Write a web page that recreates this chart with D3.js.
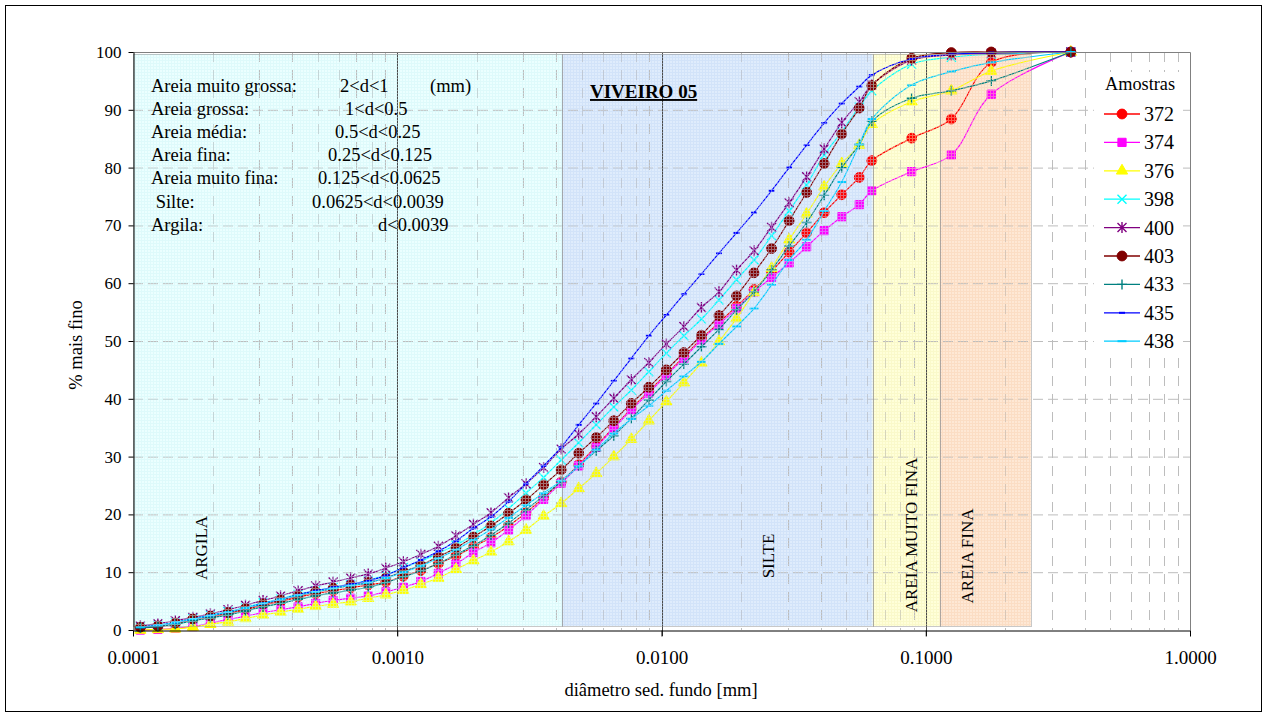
<!DOCTYPE html>
<html>
<head>
<meta charset="utf-8">
<script src="https://cdn.jsdelivr.net/npm/d3@7"></script>
<style>
body { margin: 0; background: #fff; }
svg { font-family: "Liberation Serif", "Times New Roman", serif; }
</style>
</head>
<body>
<svg id="chart"></svg>
<script>

// diametros (mm) das classes medidas
var diam = [0.0001066, 0.0001242, 0.0001446, 0.0001685, 0.0001963, 0.0002288, 0.0002665, 0.0003105,
  0.0003618, 0.0004214, 0.000491, 0.000572, 0.0006665, 0.0007766, 0.0009048, 0.001054, 0.001228,
  0.001431, 0.001667, 0.001942, 0.002263, 0.002637, 0.003072, 0.00358, 0.004171, 0.00486, 0.005662,
  0.006597, 0.007686, 0.008954, 0.010433, 0.012155, 0.014162, 0.0165, 0.019223, 0.022397, 0.026095,
  0.030402, 0.035421, 0.041266, 0.048084, 0.056021, 0.0625, 0.0884, 0.125, 0.177, 0.354];

var amostras = ["372", "374", "376", "398", "400", "403", "433", "435", "438"];

// % mais fino, uma lista por amostra
var s372 = [0.4, 0.6, 1.1, 1.7, 2.2, 2.8, 3.5, 4.3, 4.9, 5.7, 6.3, 6.8, 7.3, 7.8, 8.3,
  9.3, 10.3, 11.5, 12.8, 14.4, 16.0, 18.0, 20.3, 22.9, 25.6, 28.6, 31.8, 35.1,
  38.3, 41.3, 44.3, 47.3, 50.4, 53.2, 56.0, 58.9, 62.0, 65.4, 68.7, 72.2, 75.3, 78.3,
  81.2, 85.1, 88.4, 98.2, 100];
var s374 = [0.0, 0.1, 0.3, 0.6, 1.2, 1.8, 2.4, 3.0, 3.5, 4.0, 4.6, 5.1, 5.5, 5.9, 6.6,
  7.4, 8.4, 9.8, 11.4, 13.4, 15.1, 17.3, 19.8, 22.6, 25.4, 28.4, 31.6, 34.9,
  38.1, 41.0, 44.1, 47.0, 50.2, 52.9, 55.6, 58.5, 61.0, 63.5, 66.3, 69.1, 71.5, 73.6,
  76.0, 79.3, 82.2, 92.7, 100];
var s376 = [0.0, 0.1, 0.2, 0.5, 1.0, 1.4, 2.0, 2.6, 3.1, 3.6, 4.1, 4.5, 4.9, 5.5, 6.1,
  6.9, 7.9, 9.0, 10.5, 12.0, 13.5, 15.3, 17.3, 19.7, 21.9, 24.5, 27.1, 30.0,
  33.0, 36.2, 39.5, 42.8, 46.2, 49.9, 53.9, 58.4, 62.6, 67.5, 72.0, 76.7, 80.7, 83.9,
  87.5, 91.4, 93.3, 96.7, 100];
var s398 = [0.5, 0.8, 1.3, 2.0, 2.6, 3.2, 3.9, 4.7, 5.4, 6.2, 6.8, 7.4, 7.9, 8.6, 9.5,
  10.8, 11.9, 13.3, 14.7, 16.5, 18.5, 21.0, 23.7, 26.4, 29.4, 32.4, 35.5, 38.6,
  41.5, 44.7, 47.9, 50.9, 53.8, 57.1, 60.6, 64.0, 68.2, 72.5, 77.0, 82.2, 86.2, 90.5,
  93.3, 97.9, 99.1, 99.6, 100];
var s400 = [0.7, 1.1, 1.6, 2.2, 2.8, 3.5, 4.3, 5.1, 5.9, 6.8, 7.6, 8.3, 9.0, 9.7, 10.7,
  11.8, 13.1, 14.5, 16.3, 18.3, 20.3, 22.9, 25.3, 28.1, 31.3, 33.9, 36.9, 40.1,
  43.3, 46.3, 49.5, 52.5, 55.8, 58.5, 62.3, 65.6, 69.7, 73.9, 78.4, 83.2, 87.8, 91.4,
  94.3, 98.6, 99.5, 99.8, 100];
var s403 = [0.5, 0.7, 1.2, 1.9, 2.4, 3.0, 3.7, 4.5, 5.2, 5.9, 6.6, 7.2, 7.7, 8.2, 9.0,
  10.1, 11.2, 12.7, 14.2, 16.1, 18.0, 20.2, 22.5, 25.1, 27.7, 30.6, 33.3, 36.2,
  39.2, 42.0, 45.0, 48.0, 51.0, 54.4, 57.8, 61.8, 66.0, 70.8, 75.7, 80.7, 85.8, 90.3,
  94.2, 98.9, 99.9, 100, 100];
var s433 = [0.4, 0.6, 1.0, 1.6, 2.1, 2.6, 3.3, 4.0, 4.6, 5.3, 5.9, 6.4, 6.9, 7.4, 8.2,
  9.2, 10.2, 11.5, 13.0, 14.6, 16.4, 18.5, 20.8, 23.2, 25.7, 28.4, 31.0, 33.6,
  36.6, 39.8, 43.0, 46.0, 49.0, 52.0, 55.4, 58.5, 62.3, 66.4, 70.5, 75.2, 80.0, 84.0,
  88.0, 92.0, 93.3, 95.0, 100];
var s435 = [0.5, 0.8, 1.3, 1.9, 2.5, 3.1, 3.8, 4.6, 5.3, 6.1, 6.8, 7.4, 7.9, 8.5, 9.4,
  10.8, 12.1, 13.6, 15.4, 17.6, 19.6, 22.2, 25.3, 28.4, 31.6, 35.5, 39.2, 43.1,
  47.0, 50.9, 54.5, 58.1, 61.6, 65.2, 68.7, 72.2, 76.0, 80.0, 83.9, 87.7, 91.1, 94.0,
  96.0, 98.8, 99.6, 99.9, 100];
var s438 = [0.5, 0.8, 1.3, 1.9, 2.5, 3.1, 3.8, 4.6, 5.3, 6.0, 6.6, 7.2, 7.7, 8.2, 9.0,
  10.0, 11.1, 12.4, 13.9, 15.6, 17.4, 19.4, 21.6, 23.7, 25.8, 28.3, 31.2, 34.0,
  36.5, 38.8, 41.4, 43.9, 46.4, 49.5, 52.5, 55.6, 59.7, 64.0, 67.5, 72.5, 77.5, 84.0,
  88.4, 94.3, 96.6, 98.2, 100];

var valores = [s372, s374, s376, s398, s400, s403, s433, s435, s438];

// faixas granulometricas (mm)
var faixas = ["ARGILA", "SILTE", "AREIA MUITO FINA", "AREIA FINA"];
var faixaLimites = [[0.0001, 0.0042], [0.0042, 0.063], [0.063, 0.113], [0.113, 0.25]];

var classes = ["Areia muito grossa:", "Areia grossa:", "Areia média:", "Areia fina:",
  "Areia muito fina:", " Silte:", "Argila:"];
var classeIntervalos = ["2<d<1", "1<d<0.5", "0.5<d<0.25", "0.25<d<0.125",
  "0.125<d<0.0625", "0.0625<d<0.0039", "d<0.0039"];

var xTicks = [0.0001, 0.001, 0.01, 0.1, 1];
var yTicks = [0, 10, 20, 30, 40, 50, 60, 70, 80, 90, 100];

// ---- estilo ----
var seriesStyle = [
  {color: "#ff0000", mk: "circle"},
  {color: "#ff00ff", mk: "square"},
  {color: "#ffff00", mk: "triangle"},
  {color: "#00ffff", mk: "x"},
  {color: "#800080", mk: "star"},
  {color: "#800000", mk: "circle"},
  {color: "#008080", mk: "plus"},
  {color: "#0000ff", mk: "dash"},
  {color: "#00ccff", mk: "longdash"}
];
var faixaStyle = [
  {fill: "#ebffff", line: "#cdf3f7", lx: 207, ly: 548},
  {fill: "#dfecfc", line: "#c3d8f5", lx: 774, ly: 556},
  {fill: "#ffffd9", line: "#f3f1b8", lx: 917, ly: 535},
  {fill: "#fee8d5", line: "#f7d0b0", lx: 973, ly: 556}
];
var intervaloX = [340, 345, 335, 328, 318, 312, 378];

var W = 1267, H = 718;
var svg = d3.select("#chart").attr("width", W).attr("height", H);

var x = d3.scaleLog().domain([0.0001, 1]).range([133, 1190]);
var y = d3.scaleLinear().domain([0, 100]).range([630, 52]);

svg.append("rect").attr("x", 0).attr("y", 0).attr("width", W).attr("height", H).attr("fill", "#fff");
svg.append("rect").attr("x", 5.5).attr("y", 5.5).attr("width", 1256).attr("height", 706)
  .attr("fill", "none").attr("stroke", "#000").attr("stroke-width", 1);

var defs = svg.append("defs");
faixaStyle.forEach(function(s, i) {
  var p = defs.append("pattern").attr("id", "pat" + i)
    .attr("patternUnits", "userSpaceOnUse").attr("width", 3).attr("height", 3);
  p.append("path").attr("d", "M0,0.5H3M0.5,0V3")
    .attr("stroke", s.line).attr("stroke-width", 1).attr("fill", "none");
});

var zoneTop = 54, zoneBottom = 626;

// fundo das faixas
svg.append("g").selectAll("rect").data(faixaLimites).join("rect")
  .attr("x", function(d) { return x(d[0]); })
  .attr("y", zoneTop)
  .attr("width", function(d) { return x(d[1]) - x(d[0]); })
  .attr("height", zoneBottom - zoneTop)
  .attr("fill", function(d, i) { return faixaStyle[i].fill; });

// grade
var grid = svg.append("g");
grid.selectAll("line.h").data(yTicks.filter(function(v) { return v > 0 && v < 100; })).join("line")
  .attr("class", "h")
  .attr("x1", 133).attr("x2", 1190)
  .attr("y1", function(d) { return y(d) + 0.5; }).attr("y2", function(d) { return y(d) + 0.5; })
  .attr("stroke", "#bdbdbd").attr("stroke-dasharray", "10,5");

var minor = x.ticks().filter(function(v) {
  var m = Math.round(v / Math.pow(10, Math.floor(Math.log10(v) + 1e-9)));
  return m > 1;
});
grid.selectAll("line.v").data(minor).join("line")
  .attr("class", "v")
  .attr("x1", function(d) { return Math.round(x(d)) + 0.5; })
  .attr("x2", function(d) { return Math.round(x(d)) + 0.5; })
  .attr("y1", 52).attr("y2", 630)
  .attr("stroke", "#bdbdbd").attr("stroke-dasharray", "10,8");

grid.selectAll("line.d").data([0.001, 0.01, 0.1]).join("line")
  .attr("class", "d")
  .attr("x1", function(d) { return Math.round(x(d)) + 0.5; })
  .attr("x2", function(d) { return Math.round(x(d)) + 0.5; })
  .attr("y1", 52).attr("y2", 636)
  .attr("stroke", "#4a4a4a").attr("stroke-width", 1);

// series
var markerPath = {
  circle: d3.symbol(d3.symbolCircle, 76)(),
  square: d3.symbol(d3.symbolSquare, 68)(),
  triangle: d3.symbol(d3.symbolTriangle, 55)(),
  x: "M-4.5,-4.5L4.5,4.5M-4.5,4.5L4.5,-4.5",
  star: "M-4.5,-4.5L4.5,4.5M-4.5,4.5L4.5,-4.5M0,-5.5V5.5",
  plus: "M-5,0H5M0,-5V5",
  dash: "M-3,0H3",
  longdash: "M-4.5,0H4.5"
};
function styleMarker(sel, st) {
  var filled = (st.mk == "circle" || st.mk == "square" || st.mk == "triangle");
  sel.attr("d", markerPath[st.mk])
    .attr("fill", filled ? st.color : "none")
    .attr("stroke", st.color)
    .attr("stroke-width", filled ? 1 : (st.mk == "dash" || st.mk == "longdash" ? 2 : 1.4));
}

var line = d3.line()
  .x(function(d, i) { return x(diam[i]); })
  .y(function(d) { return y(d); })
  .curve(d3.curveCatmullRom.alpha(0.5));

var plot = svg.append("g");
valores.forEach(function(vals, si) {
  var st = seriesStyle[si];
  var g = plot.append("g");
  g.append("path").datum(vals).attr("d", line)
    .attr("fill", "none").attr("stroke", st.color).attr("stroke-width", 1.2);
  g.selectAll("path.pt").data(vals).join("path")
    .attr("class", "pt")
    .attr("transform", function(d, i) { return "translate(" + x(diam[i]) + "," + y(d) + ")"; })
    .call(styleMarker, st);
});

// textura das faixas por cima
svg.append("g").selectAll("rect").data(faixaLimites).join("rect")
  .attr("x", function(d) { return x(d[0]); })
  .attr("y", zoneTop)
  .attr("width", function(d) { return x(d[1]) - x(d[0]); })
  .attr("height", zoneBottom - zoneTop)
  .attr("fill", function(d, i) { return "url(#pat" + i + ")"; })
  .attr("opacity", 0.45);
svg.append("g").selectAll("rect").data(faixaLimites).join("rect")
  .attr("x", function(d) { return Math.round(x(d[0])) + 0.5; })
  .attr("y", zoneTop + 0.5)
  .attr("width", function(d) { return Math.round(x(d[1])) - Math.round(x(d[0])); })
  .attr("height", zoneBottom - zoneTop)
  .attr("fill", "none").attr("stroke", "#909090").attr("stroke-dasharray", "1,1");

// rotulos das faixas
svg.append("g").selectAll("text").data(faixas).join("text")
  .attr("transform", function(d, i) {
    return "translate(" + faixaStyle[i].lx + "," + faixaStyle[i].ly + ") rotate(-90)";
  })
  .attr("text-anchor", "middle")
  .attr("font-size", 17)
  .text(function(d) { return d; });

// quadro das classes
var box = svg.append("g").attr("font-size", 18.5);
box.selectAll("text.c").data(classes).join("text")
  .attr("class", "c")
  .attr("xml:space", "preserve")
  .attr("x", 151)
  .attr("y", function(d, i) { return 92 + i * 23.1; })
  .text(function(d) { return d; });
box.selectAll("text.r").data(classeIntervalos).join("text")
  .attr("class", "r")
  .attr("x", function(d, i) { return intervaloX[i]; })
  .attr("y", function(d, i) { return 92 + i * 23.1; })
  .text(function(d) { return d; });
box.append("text").attr("x", 430).attr("y", 92).text("(mm)");

svg.append("text").attr("x", 590).attr("y", 98)
  .attr("font-size", 19).attr("font-weight", "bold")
  .attr("text-decoration", "underline")
  .text("VIVEIRO 05");

// moldura do grafico
svg.append("path").attr("d", "M133,52.5H1190.5V630")
  .attr("fill", "none").attr("stroke", "#808080");

// eixos
var yAxis = d3.axisLeft(y).tickValues(yTicks).tickSize(5).tickSizeOuter(0).tickPadding(7);
svg.append("g").attr("transform", "translate(133.5,0)").call(yAxis)
  .call(function(g) {
    g.selectAll("text").attr("font-size", 17).attr("font-family", "Liberation Serif").attr("fill", "#000");
    g.selectAll("line, path").attr("stroke", "#000");
  });

var xAxis = d3.axisBottom(x).tickValues(xTicks).tickSize(6).tickSizeOuter(0).tickPadding(14)
  .tickFormat(d3.format(".4f"));
svg.append("g").attr("transform", "translate(0,630.5)").call(xAxis)
  .call(function(g) {
    g.selectAll("text").attr("font-size", 19).attr("font-family", "Liberation Serif").attr("fill", "#000");
    g.selectAll("line, path").attr("stroke", "#000");
  });

svg.append("text").attr("x", 661).attr("y", 696).attr("text-anchor", "middle")
  .attr("font-size", 18.5).text("diâmetro sed. fundo [mm]");
svg.append("text").attr("transform", "translate(82,345) rotate(-90)")
  .attr("text-anchor", "middle").attr("font-size", 18.5).text("% mais fino");

// legenda
var leg = svg.append("g");
leg.append("rect").attr("x", 1094).attr("y", 72).attr("width", 86).attr("height", 279).attr("fill", "#fff");
leg.append("text").attr("x", 1105).attr("y", 90).attr("font-size", 18.3).text("Amostras");
var rows = leg.selectAll("g.row").data(amostras).join("g")
  .attr("class", "row")
  .attr("transform", function(d, i) { return "translate(0," + (114 + i * 28.4) + ")"; });
rows.append("line").attr("x1", 1104).attr("x2", 1140).attr("y1", 0).attr("y2", 0)
  .attr("stroke", function(d, i) { return seriesStyle[i].color; }).attr("stroke-width", 1.3);
rows.append("path").attr("transform", "translate(1122,0)")
  .each(function(d, i) { d3.select(this).call(styleMarker, seriesStyle[i]); });
rows.append("text").attr("x", 1144).attr("y", 7).attr("font-size", 20)
  .text(function(d) { return d; });

</script>
</body>
</html>
